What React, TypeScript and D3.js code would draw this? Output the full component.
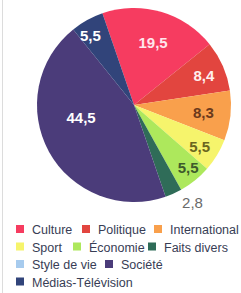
import { useMemo } from 'react';
import * as d3 from 'd3';

const categories = [
  'Culture',
  'Politique',
  'International',
  'Sport',
  'Économie',
  'Faits divers',
  'Style de vie',
  'Société',
  'Médias-Télévision',
];
const values = [19.5, 8.4, 8.3, 5.5, 5.5, 2.8, 0, 44.5, 5.5];
const colors = [
  '#f63c60',
  '#e2453f',
  '#f9a04c',
  '#f6f46c',
  '#ade85c',
  '#2f6c58',
  '#a7cbee',
  '#4b3c7a',
  '#31447a',
];
const labelColors = ['#ffe6ec', '#fff0ee', '#6b3a1c', '#6a6620', '#3d5a2c', '#6a6a6a', '#fff', '#fff', '#fff'];

// layout only: label distance (fraction of radius) and angle tweak in degrees
const labelRadius = [0.67, 0.78, 0.72, 0.8, 0.85, 1.17, 0, 0.56, 0.85];
const labelTurn = [1, 1, 0, 1, -2, -7, 0, 16, -3];

// legend rows: indices into categories and swatch x positions
const legendRows = [
  [0, 1, 2],
  [3, 4, 5],
  [6, 7],
  [8],
];
const legendX = [
  [16, 82, 154],
  [16, 73, 148],
  [16, 105],
  [16],
];

const width = 241;
const height = 293;
const cx = 134;
const cy = 105;
const radius = 97;
const startDeg = -19;

const fmt = (v: number) => v.toFixed(1).replace('.', ',');

export default function App() {
  const slices = useMemo(() => {
    const start = (startDeg * Math.PI) / 180;
    const pie = d3
      .pie<number>()
      .sort(null)
      .value(d => d)
      .startAngle(start)
      .endAngle(start + 2 * Math.PI);
    return pie(values);
  }, []);

  const arc = d3.arc<d3.PieArcDatum<number>>().innerRadius(0).outerRadius(radius);

  return (
    <svg
      width={width}
      height={height}
      style={{ position: 'absolute', left: 0, top: 0, background: '#fff' }}
    >
      <line x1={2.5} x2={2.5} y1={0} y2={height} stroke="#dcdcdc" strokeWidth={1} />
      <g transform={`translate(${cx},${cy})`}>
        {slices.map((s, i) =>
          s.value > 0 ? <path key={i} d={arc(s) || ''} fill={colors[i]} /> : null
        )}
        {slices.map((s, i) => {
          if (s.value <= 0) return null;
          const mid = (s.startAngle + s.endAngle) / 2 + (labelTurn[i] * Math.PI) / 180;
          const r = radius * labelRadius[i];
          const x = Math.sin(mid) * r;
          const y = -Math.cos(mid) * r;
          return (
            <text
              key={i}
              x={x}
              y={y}
              textAnchor="middle"
              dominantBaseline="central"
              fill={labelColors[i]}
              fontFamily="Liberation Sans, Arial, sans-serif"
              fontWeight={i === 5 ? 400 : 700}
              fontSize={15}
            >
              {fmt(s.value)}
            </text>
          );
        })}
      </g>
      <g fontFamily="Liberation Sans, Arial, sans-serif" fontSize={12.5} fill="#383d55">
        {legendRows.map((row, r) =>
          row.map((ci, k) => {
            const x = legendX[r][k];
            const base = 234 + r * 17.5;
            return (
              <g key={ci}>
                <rect x={x} y={base - 9} width={8} height={8} fill={colors[ci]} />
                <text x={x + 16} y={base}>
                  {categories[ci]}
                </text>
              </g>
            );
          })
        )}
      </g>
    </svg>
  );
}
